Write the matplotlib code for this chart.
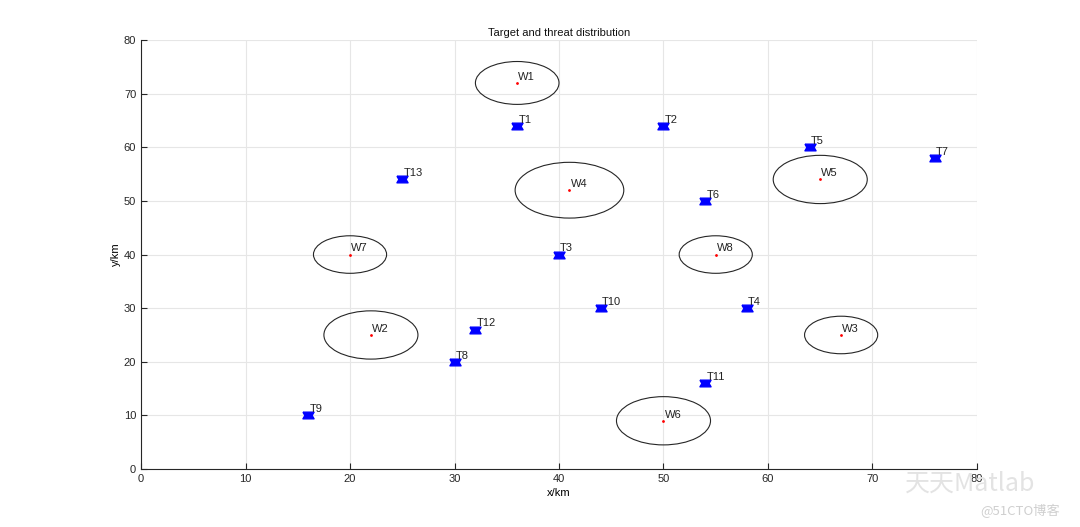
import numpy as np
import matplotlib
matplotlib.use("Agg")
import matplotlib.pyplot as plt
from matplotlib.patches import Ellipse

plt.rcParams['font.family'] = ['Liberation Sans', 'Noto Sans CJK SC', 'DejaVu Sans']

# targets
target_names = ['T1', 'T2', 'T3', 'T4', 'T5', 'T6', 'T7', 'T8', 'T9', 'T10', 'T11', 'T12', 'T13']
target_x = [36, 50, 40, 58, 64, 54, 76, 30, 16, 44, 54, 32, 25]
target_y = [64, 64, 40, 30, 60, 50, 58, 20, 10, 30, 16, 26, 54]

# threats (centre + radius)
threat_names = ['W1', 'W2', 'W3', 'W4', 'W5', 'W6', 'W7', 'W8']
threat_x = [36, 22, 67, 41, 65, 50, 20, 55]
threat_y = [72, 25, 25, 52, 54, 9, 40, 40]
threat_r = [4, 4.5, 3.5, 5.2, 4.5, 4.5, 3.5, 3.5]

hourglass = [(-1, 0.6), (1, 0.6), (0.65, 0), (1, -0.6), (-1, -0.6), (-0.65, 0), (-1, 0.6)]

fig = plt.figure(figsize=(10.8, 5.27), dpi=100)
ax = fig.add_axes([0.1306, 0.110, 0.774, 0.814])

for i in range(len(threat_names)):
    e = Ellipse((threat_x[i], threat_y[i]), 2 * threat_r[i], 2 * threat_r[i],
                fill=False, edgecolor='#262626', linewidth=0.8)
    ax.add_patch(e)
    ax.plot(threat_x[i], threat_y[i], '.', color='red', markersize=2)
    ax.text(threat_x[i] + 0.1, threat_y[i] + 0.6, threat_names[i], fontsize=8, color='#222222')

ax.plot(target_x, target_y, linestyle='none', marker=hourglass, color='blue', markersize=8)
for i in range(len(target_names)):
    ax.text(target_x[i] + 0.1, target_y[i] + 0.6, target_names[i], fontsize=8, color='#222222')

ax.set_xlim(0, 80)
ax.set_ylim(0, 80)
ax.set_xticks(np.arange(0, 81, 10))
ax.set_yticks(np.arange(0, 81, 10))
ax.grid(True, color='#e6e6e6', linewidth=0.8)
ax.set_axisbelow(True)
ax.spines['top'].set_visible(False)
ax.spines['right'].set_visible(False)
for s in ['left', 'bottom']:
    ax.spines[s].set_color('#262626')
    ax.spines[s].set_linewidth(0.8)
ax.tick_params(direction='in', labelsize=8, colors='#262626', length=4)
ax.set_title('Target and threat distribution', fontsize=8, color='#111111', pad=3)
ax.set_xlabel('x/km', fontsize=8, labelpad=3)
ax.set_ylabel('y/km', fontsize=8, labelpad=2)

# watermark
fig.text(0.838, 0.068, '天天Matlab', fontsize=18, color='#e3e3e3', family=['Noto Sans CJK SC', 'DejaVu Sans'])
fig.text(0.908, 0.022, '@51CTO博客', fontsize=9.5, color='#cfcfcf', family=['Noto Sans CJK SC', 'DejaVu Sans'])

fig.savefig('out.png', dpi=100)
